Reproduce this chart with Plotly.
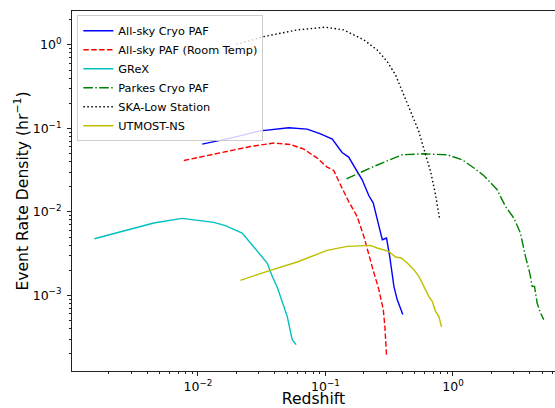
import plotly.graph_objects as go

# ---- data ----
cryo_z = [0.0108, 0.0180, 0.0309, 0.0515, 0.0718, 0.0914, 0.113, 0.135, 0.152, 0.172,
          0.194, 0.219, 0.237, 0.257, 0.279, 0.301, 0.319, 0.344, 0.365, 0.404]
cryo_r = [0.0648, 0.0765, 0.0935, 0.1016, 0.098, 0.0861, 0.0744, 0.0514, 0.0453, 0.0335,
          0.0242, 0.0156, 0.01276, 0.00769, 0.00464, 0.00486, 0.00293, 0.00128, 0.00089, 0.000588]

room_z = [0.00774, 0.0159, 0.0258, 0.0394, 0.0531, 0.0676, 0.0861, 0.103, 0.116, 0.131,
          0.152, 0.177, 0.200, 0.232, 0.262, 0.284, 0.292, 0.301]
room_r = [0.0413, 0.0520, 0.0607, 0.0667, 0.0641, 0.0565, 0.0441, 0.0344, 0.0313, 0.0211,
          0.0133, 0.00882, 0.00508, 0.00222, 0.00117, 0.000675, 0.000426, 0.000195]

grex_z = [0.00154, 0.0027, 0.0045, 0.00752, 0.0133, 0.0164, 0.0222, 0.0349, 0.0382,
          0.0418, 0.0457, 0.0501, 0.0548, 0.0589]
grex_r = [0.00477, 0.00595, 0.00735, 0.00835, 0.00748, 0.00683, 0.00558, 0.00244, 0.00169,
          0.00126, 0.000848, 0.000561, 0.000295, 0.000257]

parkes_z = [0.146, 0.239, 0.400, 0.590, 0.902, 1.18, 1.46, 1.75, 2.22, 2.58, 3.00, 3.38,
            3.70, 4.00, 4.18, 4.36, 4.57, 4.85, 5.15]
parkes_r = [0.0249, 0.0350, 0.0483, 0.0496, 0.0483, 0.0421, 0.0335, 0.0271, 0.0184, 0.0116,
            0.00844, 0.00558, 0.00293, 0.00185, 0.00128, 0.00128, 0.000811, 0.000616, 0.000512]

ska_z = [0.0200, 0.0215, 0.0328, 0.060, 0.100, 0.139, 0.200, 0.254, 0.305, 0.354, 0.411,
         0.479, 0.540, 0.573, 0.608, 0.667, 0.730, 0.787]
ska_r = [1.03, 1.048, 1.257, 1.512, 1.63, 1.512, 1.148, 0.871, 0.631, 0.438, 0.252,
         0.145, 0.0918, 0.0667, 0.0483, 0.0305, 0.0160, 0.00805]

utmost_z = [0.0215, 0.0349, 0.060, 0.103, 0.148, 0.225, 0.254, 0.313, 0.354, 0.393, 0.438,
            0.493, 0.540, 0.590, 0.646, 0.687, 0.730, 0.774, 0.813]
utmost_r = [0.00151, 0.00194, 0.00251, 0.00346, 0.00386, 0.00397, 0.00369, 0.00336, 0.00288,
            0.00280, 0.00244, 0.00203, 0.00169, 0.00128, 0.000973, 0.000848, 0.000644,
            0.000561, 0.000419]

x_major = [0.01, 0.1, 1.0]
x_major_text = ["10<sup>−2</sup>", "10<sup>−1</sup>", "10<sup>0</sup>"]
y_major = [1e-3, 1e-2, 1e-1, 1.0]
y_major_text = ["10<sup>−3</sup>", "10<sup>−2</sup>", "10<sup>−1</sup>", "10<sup>0</sup>"]

series = [
    ("All-sky Cryo PAF", cryo_z, cryo_r, "#0000ff", "solid"),
    ("All-sky PAF (Room Temp)", room_z, room_r, "#ff0000", "5.5px,2.4px"),
    ("GReX", grex_z, grex_r, "#00bfbf", "solid"),
    ("Parkes Cryo PAF", parkes_z, parkes_r, "#008000", "9.6px,2.4px,1.5px,2.4px"),
    ("SKA-Low Station", ska_z, ska_r, "#000000", "1.5px,2.5px"),
    ("UTMOST-NS", utmost_z, utmost_r, "#bfbf00", "solid"),
]

fig = go.Figure()
for name, xs, ys, col, dash in series:
    fig.add_trace(go.Scatter(x=xs, y=ys, mode="lines", name=name,
                             line=dict(color=col, width=1.4, dash=dash)))

minor_x = [m * 10.0 ** e for e in (-3, -2, -1, 0) for m in range(2, 10)]
minor_y = [m * 10.0 ** e for e in (-4, -3, -2, -1, 0) for m in range(2, 10)]

font = "DejaVu Sans"
tick_font = dict(family=font, size=12.5, color="black")
fig.update_layout(
    width=555, height=408,
    margin=dict(l=72, r=0, t=11, b=37, autoexpand=False),
    paper_bgcolor="white", plot_bgcolor="white",
    font=dict(family=font, size=11.3, color="black"),
    showlegend=True,
    legend=dict(x=0.011, y=0.988, xanchor="left", yanchor="top",
                bgcolor="rgba(255,255,255,0.8)", bordercolor="#cccccc", borderwidth=1,
                font=dict(family=font, size=11.3), tracegroupgap=0,
                itemwidth=30),
    xaxis=dict(type="log", range=[-2.988, 0.800], automargin=False,
               showline=True, linecolor="#222", linewidth=1, mirror=True,
               showgrid=False, zeroline=False,
               tickmode="array", tickvals=x_major, ticktext=x_major_text,
               tickfont=tick_font,
               ticks="outside", ticklen=4, tickwidth=1, tickcolor="#222",
               ticklabelstandoff=0,
               minor=dict(tickmode="array", tickvals=minor_x, ticks="outside",
                          ticklen=2.3, tickwidth=0.8, tickcolor="#222", showgrid=False),
               title=dict(text="Redshift", font=dict(family=font, size=15.6), standoff=9)),
    yaxis=dict(type="log", range=[-3.906, 0.406], automargin=False,
               showline=True, linecolor="#222", linewidth=1, mirror=False,
               showgrid=False, zeroline=False,
               tickmode="array", tickvals=y_major, ticktext=y_major_text,
               tickfont=tick_font,
               ticks="outside", ticklen=4, tickwidth=1, tickcolor="#222",
               ticklabelstandoff=3,
               minor=dict(tickmode="array", tickvals=minor_y, ticks="outside",
                          ticklen=2.3, tickwidth=0.8, tickcolor="#222", showgrid=False),
               title=dict(text="Event Rate Density (hr<sup>−1</sup>)",
                          font=dict(family=font, size=15.6), standoff=0)),
)

fig.write_html("out.html",
               config={"displayModeBar": False},
               post_script="document.body.style.margin='0';document.body.style.overflow='hidden';")
